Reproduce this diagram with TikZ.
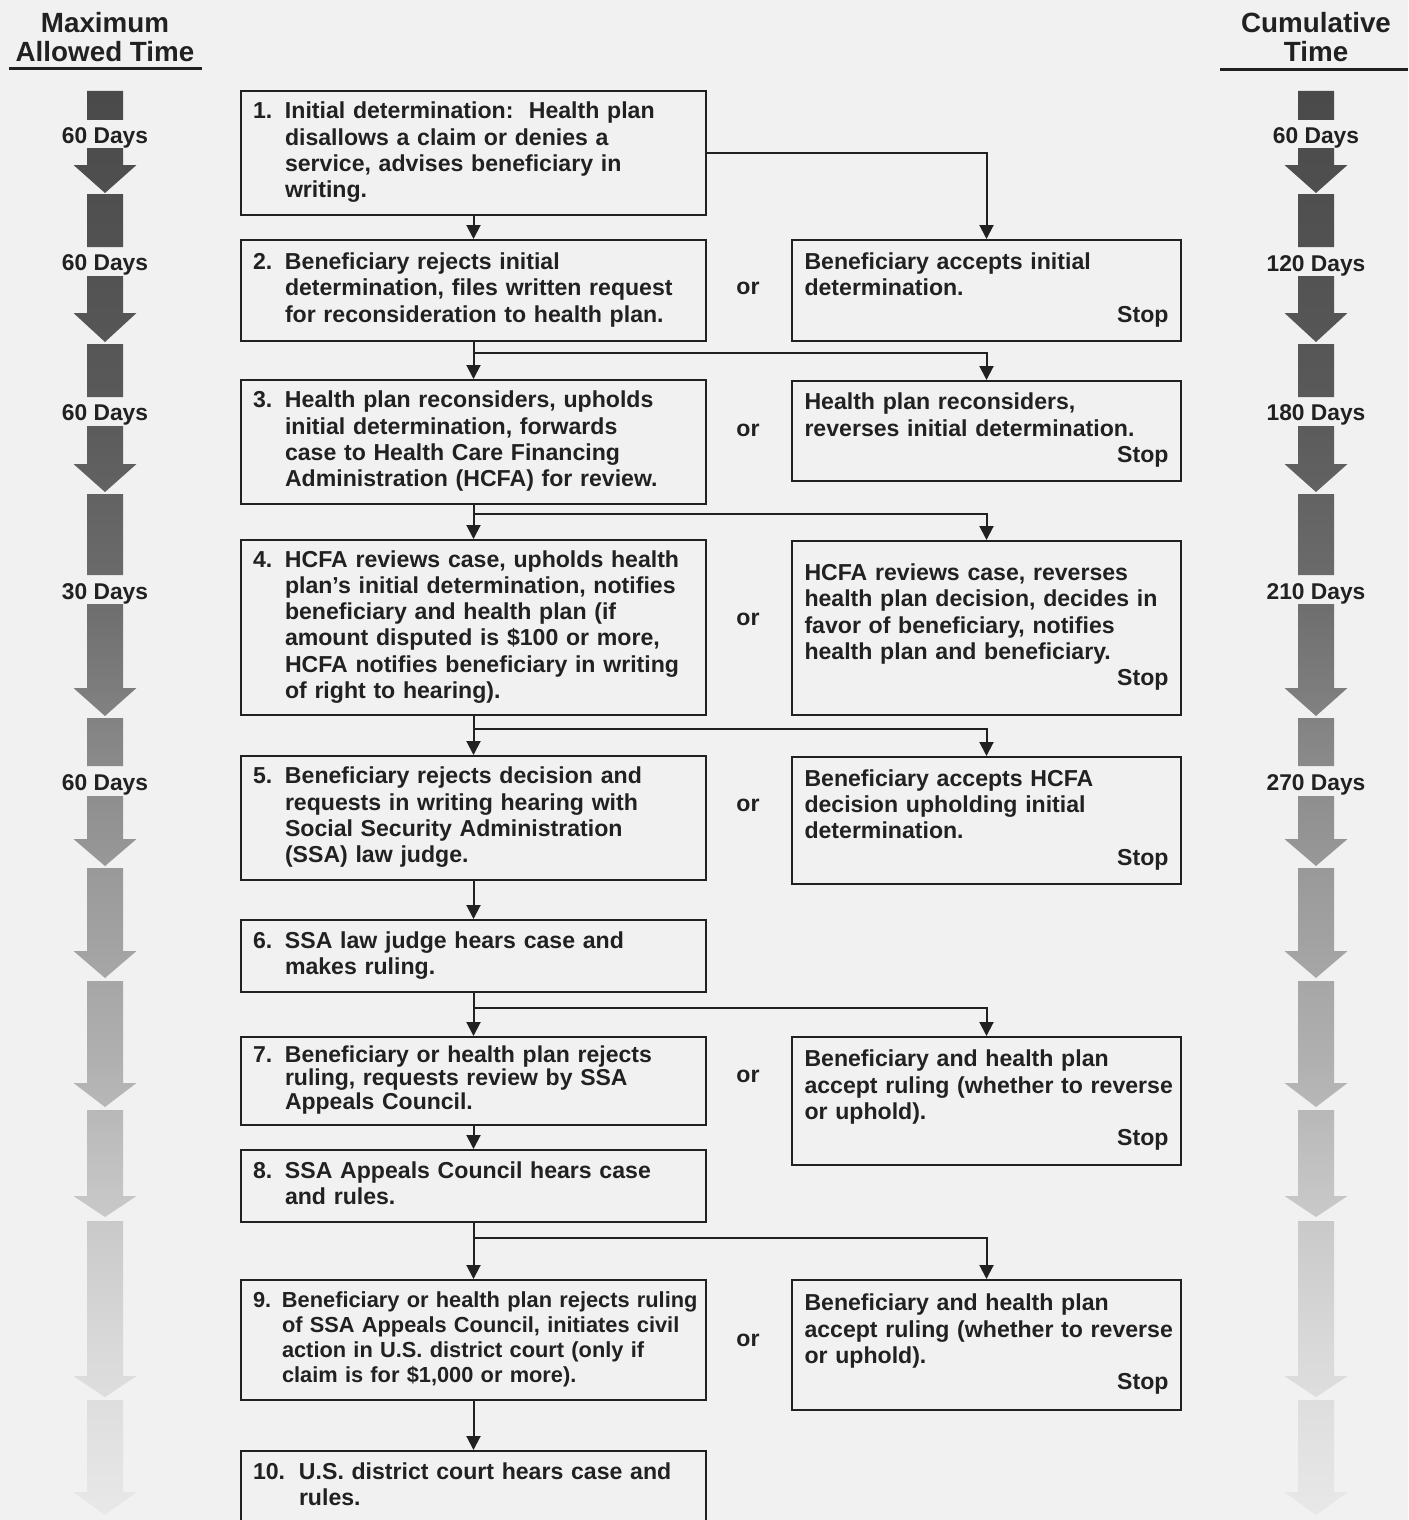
\documentclass[tikz,border=0pt]{standalone}
\usepackage{fontspec}
\setmainfont{Liberation Sans}
\usepackage{tikz}
\usetikzlibrary{arrows.meta}
\definecolor{paper}{gray}{0.945}
\definecolor{ink}{gray}{0.13}

% the two time columns fade from dark at the top to nearly white at the foot
\pgfdeclareverticalshading{timefade}{100bp}{color(0bp)=(black!9); color(25bp)=(black!9);
  color(31bp)=(black!15); color(36bp)=(black!22); color(41bp)=(black!31);
  color(47bp)=(black!39); color(52bp)=(black!47); color(57bp)=(black!57);
  color(64bp)=(black!65); color(75bp)=(black!71); color(100bp)=(black!71)}

% numbered step: number column, then the lines of the step
\newcommand{\stepno}[3][16pt]{\begin{tabular}[t]{@{}p{#1}@{}l@{}}#2&#3\end{tabular}}
% alternative outcome, closed by a right-set "Stop"
\newcommand{\outcome}[1]{\begin{tabular}[t]{@{}l@{}}#1\\\makebox[182pt][r]{Stop}\end{tabular}}

\begin{document}
\begin{tikzpicture}[x=0.5pt, y=-0.5pt,
    font=\bfseries\fontsize{11.55}{13.15}\selectfont,
    box/.style={draw=ink, line width=1pt, inner ysep=0pt, align=left, text=ink},
    lbox/.style={box, text width=220.5pt, inner xsep=6pt},
    rbox/.style={box, text width=182pt, inner xsep=6.25pt},
    link/.style={draw=ink, line width=1pt, -{Triangle[width=7pt,length=7pt]}},
    days/.style={anchor=base, text=ink, font=\bfseries\fontsize{11.4}{13}\selectfont},
    head/.style={anchor=base, text=ink, font=\bfseries\fontsize{13.9}{14.25}\selectfont},
    ornode/.style={text=ink}]

  \fill[paper] (0,0) rectangle (1408,1520);
  \useasboundingbox (0,0) rectangle (1408,1520);

  % ---- column heads ---------------------------------------------------------
  \node[head] (maxhd) at (105,32.5) {\begin{tabular}[t]{@{}c@{}}Maximum\\Allowed Time\end{tabular}};
  \node[head] (cumhd) at (1316,33) {\begin{tabular}[t]{@{}c@{}}Cumulative\\Time\end{tabular}};
  \draw[ink, line width=1.5pt] (9,69) -- (202,69);
  \draw[ink, line width=1.5pt] (1220,70) -- (1408,70);

  % ---- time columns: bars and block arrows ----------------------------------
  \foreach \cx in {105,1316}{
    \shade[shading=timefade]
      foreach \t/\b in {91/120,194/247,344/397,494/575,718/766}{
        (\cx-18,\t) rectangle (\cx+18,\b)}
      foreach \t/\n/\p in {148/165/193, 276/313/342, 426/464/492, 604/688/716,
                           796/839/866, 868/951/978, 981/1083/1107, 1110/1196/1217,
                           1221/1376/1397, 1400/1492/1515}{
        (\cx-18,\t) -- (\cx+18,\t) -- (\cx+18,\n) -- (\cx+31.5,\n) -- (\cx,\p)
        -- (\cx-31.5,\n) -- (\cx-18,\n) -- cycle};
  }
  \foreach \y/\txt in {143/60 Days, 270/60 Days, 420/60 Days, 599/30 Days, 790/60 Days}
    \node[days] (max\y) at (105,\y) {\txt};
  \foreach \y/\txt in {143/60 Days, 271/120 Days, 420/180 Days, 599/210 Days, 790/270 Days}
    \node[days] (cum\y) at (1316,\y) {\txt};

  % ---- main line of steps -----------------------------------------------------
  \node[lbox, minimum height=62pt] (b1) at (473.5,153) {\stepno{1.}{Initial determination:\ \ Health plan\\
    &disallows a claim or denies a\\&service, advises beneficiary in\\&writing.}};
  \node[lbox, minimum height=50.5pt] (b2) at (473.5,290.5) {\stepno{2.}{Beneficiary rejects initial\\
    &determination, files written request\\&for reconsideration to health plan.}};
  \node[lbox, minimum height=62pt] (b3) at (473.5,442) {\stepno{3.}{Health plan reconsiders, upholds\\
    &initial determination, forwards\\&case to Health Care Financing\\&Administration (HCFA) for review.}};
  \node[lbox, minimum height=87.5pt] (b4) at (473.5,627.5) {\stepno{4.}{HCFA reviews case, upholds health\\
    &plan's initial determination, notifies\\&beneficiary and health plan (if\\
    &amount disputed is \$100 or more,\\&HCFA notifies beneficiary in writing\\&of right to hearing).}};
  \node[lbox, minimum height=62pt] (b5) at (473.5,818) {\stepno{5.}{Beneficiary rejects decision and\\
    &requests in writing hearing with\\&Social Security Administration\\&(SSA) law judge.}};
  \node[lbox, minimum height=36pt] (b6) at (473.5,956) {\stepno{6.}{SSA law judge hears case and\\
    &makes ruling.}};
  \node[lbox, minimum height=44pt, font=\bfseries\fontsize{11.5}{11.75}\selectfont] (b7) at (473.5,1081)
    {\stepno{7.}{Beneficiary or health plan rejects\\&ruling, requests review by SSA\\&Appeals Council.}};
  \node[lbox, minimum height=36pt] (b8) at (473.5,1186) {\stepno{8.}{SSA Appeals Council hears case\\
    &and rules.}};
  \node[lbox, minimum height=60pt, font=\bfseries\fontsize{10.9}{12.5}\selectfont] (b9) at (473.5,1340)
    {\stepno[14.5pt]{9.}{Beneficiary or health plan rejects ruling\\&of SSA Appeals Council, initiates civil\\
    &action in U.S. district court (only if\\&claim is for \$1,000 or more).}};
  \node[lbox, minimum height=36pt] (b10) at (473.5,1487) {\stepno[23pt]{10.}{U.S. district court hears case and\\
    &rules.}};

  % ---- outcomes that stop the appeal ----------------------------------------
  \node[rbox, minimum height=50.5pt] (r2) at (986.5,290.5) {\outcome{Beneficiary accepts initial\\determination.}};
  \node[rbox, minimum height=50pt] (r3) at (986.5,431) {\outcome{Health plan reconsiders,\\reverses initial determination.}};
  \node[rbox, minimum height=87pt] (r4) at (986.5,628) {\outcome{HCFA reviews case, reverses\\
    health plan decision, decides in\\favor of beneficiary, notifies\\health plan and beneficiary.}};
  \node[rbox, minimum height=63.5pt] (r5) at (986.5,820.5) {\outcome{Beneficiary accepts HCFA\\
    decision upholding initial\\determination.}};
  \node[rbox, minimum height=64pt] (r7) at (986.5,1101) {\outcome{Beneficiary and health plan\\
    accept ruling (whether to reverse\\or uphold).}};
  \node[rbox, minimum height=65pt] (r9) at (986.5,1345) {\outcome{Beneficiary and health plan\\
    accept ruling (whether to reverse\\or uphold).}};

  \foreach \y/\n in {288/2, 430/3, 619/4, 805/5, 1076/7, 1340/9}
    \node[ornode] (or\n) at (748,\y) {or};

  % ---- connectors -------------------------------------------------------------
  \coordinate (j2) at (473.5,353);
  \coordinate (j3) at (473.5,514);
  \coordinate (j4) at (473.5,729);
  \coordinate (j6) at (473.5,1008);
  \coordinate (j8) at (473.5,1238);

  \draw[link] (b1.south) -- (b2.north);
  \draw[link] (b1.east) -| (r2.north);
  \draw[link] (b2.south) -- (b3.north);
  \draw[link] (j2) -| (r3.north);
  \draw[link] (b3.south) -- (b4.north);
  \draw[link] (j3) -| (r4.north);
  \draw[link] (b4.south) -- (b5.north);
  \draw[link] (j4) -| (r5.north);
  \draw[link] (b5.south) -- (b6.north);
  \draw[link] (b6.south) -- (b7.north);
  \draw[link] (j6) -| (r7.north);
  \draw[link] (b7.south) -- (b8.north);
  \draw[link] (b8.south) -- (b9.north);
  \draw[link] (j8) -| (r9.north);
  \draw[link] (b9.south) -- (b10.north);
\end{tikzpicture}
\end{document}
